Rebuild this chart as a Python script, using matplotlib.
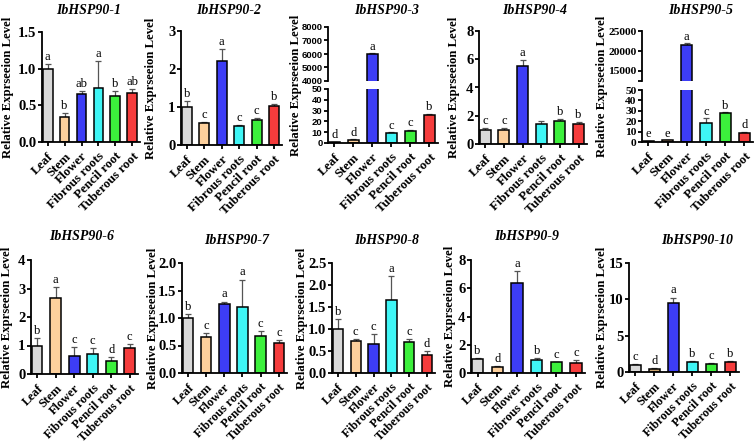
import matplotlib
matplotlib.use("Agg")
import matplotlib.pyplot as plt
import numpy as np

plt.rcParams['font.family'] = ['Liberation Serif', 'DejaVu Serif']

tissues = ["Leaf", "Stem", "Flower", "Fibrous roots", "Pencil root", "Tuberous root"]
colors = ["#d9d9d9", "#fdd09c", "#3d3df5", "#3ff5f5", "#3cf03c", "#f53c3c"]
colors_p10 = ["#d9d9d9", "#c8a26e", "#3d3df5", "#3ff5f5", "#3cf03c", "#f53c3c"]

genes = ["IbHSP90-1", "IbHSP90-2", "IbHSP90-3", "IbHSP90-4", "IbHSP90-5",
         "IbHSP90-6", "IbHSP90-7", "IbHSP90-8", "IbHSP90-9", "IbHSP90-10"]

means_1 = [1.0, 0.34, 0.66, 0.73, 0.63, 0.67]
err_1 = [0.06, 0.05, 0.04, 0.37, 0.07, 0.05]
let_1 = ["a", "b", "ab", "a", "b", "ab"]

means_2 = [1.0, 0.57, 2.2, 0.5, 0.65, 1.03]
err_2 = [0.15, 0.04, 0.33, 0.03, 0.07, 0.05]
let_2 = ["b", "c", "a", "c", "c", "b"]

means_3 = [0.8, 3.0, 6000, 9.0, 11.0, 26.0]
err_3 = [0.2, 0.5, 40, 1.0, 1.0, 1.0]
let_3 = ["d", "d", "a", "c", "c", "b"]

means_4 = [1.0, 1.0, 5.55, 1.45, 1.65, 1.45]
err_4 = [0.1, 0.15, 0.4, 0.15, 0.1, 0.08]
let_4 = ["c", "c", "a", "", "b", "b"]

means_5 = [1.0, 1.5, 21500, 18.0, 27.5, 9.0]
err_5 = [0.2, 0.3, 500, 5.0, 1.0, 1.0]
let_5 = ["e", "e", "a", "c", "b", "d"]

means_6 = [1.0, 2.65, 0.63, 0.7, 0.47, 0.92]
err_6 = [0.27, 0.4, 0.3, 0.22, 0.12, 0.14]
let_6 = ["b", "a", "c", "c", "d", "c"]

means_7 = [1.0, 0.65, 1.25, 1.2, 0.67, 0.55]
err_7 = [0.07, 0.08, 0.05, 0.5, 0.1, 0.05]
let_7 = ["b", "c", "a", "a", "c", "c"]

means_8 = [1.0, 0.72, 0.65, 1.65, 0.7, 0.4]
err_8 = [0.22, 0.05, 0.23, 0.55, 0.08, 0.1]
let_8 = ["b", "c", "c", "a", "c", "d"]

means_9 = [1.0, 0.45, 6.35, 0.95, 0.75, 0.7]
err_9 = [0.05, 0.05, 0.85, 0.12, 0.05, 0.2]
let_9 = ["b", "d", "a", "b", "c", "c"]

means_10 = [1.0, 0.45, 9.5, 1.35, 1.1, 1.35]
err_10 = [0.15, 0.1, 0.75, 0.1, 0.1, 0.1]
let_10 = ["c", "d", "a", "b", "c", "b"]

W, H = 755, 444
fig = plt.figure(figsize=(W / 100, H / 100), dpi=100)

def rect(L, R, T, B):
    return [L / W, 1 - B / H, (R - L) / W, (B - T) / H]

YLABEL = "Relative Exprseeion Level"
LW = 1.3

def style(ax, bottom=True, family=None, fs=10.5):
    for s in ["top", "right"]:
        ax.spines[s].set_visible(False)
    ax.spines["left"].set_linewidth(LW)
    ax.spines["bottom"].set_linewidth(LW)
    if not bottom:
        ax.spines["bottom"].set_visible(False)
    ax.tick_params(axis="y", width=LW, length=3, direction="out", pad=1)
    ax.tick_params(axis="y", which="minor", width=LW, length=3)
    ax.tick_params(axis="x", width=LW, length=3, direction="out", pad=3)
    for lab in ax.get_yticklabels():
        lab.set_fontweight("bold")
        lab.set_fontsize(fs)
        if family:
            lab.set_family(family)
    ax.set_xlim(-0.33, 5.45)

def bars(ax, means, errs, cols, letters, offset, clip_top=None):
    x = np.arange(len(means))
    ax.bar(x, means, width=0.58, color=cols, edgecolor="black", linewidth=1.1, zorder=2)
    ax.errorbar(x, means, yerr=[np.zeros(len(errs)), errs], fmt="none",
                ecolor="#555555", elinewidth=0.9, capsize=2.5, capthick=0.9, zorder=1)
    for xi, m, e, l in zip(x, means, errs, letters):
        if l and (clip_top is None or m + e <= clip_top):
            ax.text(xi, m + e + offset, l, ha="center", va="bottom", fontsize=9)

def xlabels(ax, fs):
    ax.set_xticks(np.arange(len(tissues)))
    ax.set_xticklabels(tissues, rotation=45, ha="right", rotation_mode="anchor",
                       fontsize=fs, fontweight="bold")

def title(x, y, t):
    fig.text(x / W, 1 - y / H, t, fontsize=10, fontweight="bold", style="italic",
             ha="center", va="center")

def ylab(x, yc):
    fig.text(x / W, 1 - yc / H, YLABEL, rotation=90, fontsize=9.2, fontweight="bold",
             ha="center", va="center")

def simple(r, tpos, lx, t, means, errs, letters, ymax, step, fmt, cols=colors, xfs=9.4):
    ax = fig.add_axes(rect(*r))
    bars(ax, means, errs, cols, letters, ymax * 0.01)
    ax.set_ylim(0, ymax)
    ticks = np.arange(0, ymax + step / 2, step)
    ax.set_yticks(ticks)
    ax.set_yticklabels([fmt.format(v) for v in ticks])
    xlabels(ax, xfs)
    style(ax)
    title(tpos[0], tpos[1], t)
    ylab(lx, (r[2] + r[3]) / 2)
    return ax

def broken(r_up, r_lo, tpos, lx, t, means, errs, letters, up_lim, up_ticks, lo_lim, lo_ticks,
           family, fs, minor=None):
    axu = fig.add_axes(rect(*r_up))
    axl = fig.add_axes(rect(*r_lo))
    bars(axu, means, errs, colors, ["" if m < up_lim[0] else l for m, l in zip(means, letters)], 0)
    bars(axl, means, errs, colors, letters, lo_lim[1] * 0.01, clip_top=lo_lim[1])
    axu.set_ylim(*up_lim)
    axu.set_yticks(up_ticks)
    axu.set_yticklabels([str(v) for v in up_ticks])
    if minor is not None:
        axu.set_yticks(minor, minor=True)
    axu.set_xticks([])
    axl.set_ylim(*lo_lim)
    axl.set_yticks(lo_ticks)
    axl.set_yticklabels([str(v) for v in lo_ticks])
    xlabels(axl, 9.4)
    style(axu, bottom=False, family=family, fs=fs)
    style(axl, family=family, fs=fs)
    title(tpos[0], tpos[1], t)
    ylab(lx, (r_up[2] + r_lo[3]) / 2)

simple((42, 140, 32, 142), (89, 11), 8, genes[0], means_1, err_1, let_1, 1.5, 0.5, "{:.1f}")
simple((181, 282, 31, 145), (229, 11), 151, genes[1], means_2, err_2, let_2, 3, 1, "{:.0f}")
broken((328, 438, 27, 81), (328, 438, 89, 143), (387, 11), 296, genes[2], means_3, err_3, let_3,
       (4000, 8000), [4000, 5000, 6000, 7000, 8000], (0, 50), [0, 10, 20, 30, 40, 50],
       ["Liberation Sans", "DejaVu Sans"], 6.8)
simple((479, 587, 31, 144), (535, 11), 454, genes[3], means_4, err_4, let_4, 8, 2, "{:.0f}")
broken((642, 753, 31, 81), (642, 753, 90, 142), (701, 11), 602, genes[4], means_5, err_5, let_5,
       (12500, 25000), [15000, 20000, 25000], (0, 50), [0, 10, 20, 30, 40, 50],
       None, 8.2, minor=[12500])
simple((31, 138, 260, 374), (82, 236), 7, genes[5], means_6, err_6, let_6, 4, 1, "{:.0f}", xfs=8.9)
simple((182, 287, 263, 373), (237, 240), 153, genes[6], means_7, err_7, let_7, 2.0, 0.5, "{:.1f}", xfs=8.9)
simple((332, 435, 263, 373), (387, 240), 302, genes[7], means_8, err_8, let_8, 2.5, 0.5, "{:.1f}", xfs=8.9)
simple((471, 585, 260, 373), (527, 236), 450, genes[8], means_9, err_9, let_9, 8, 2, "{:.0f}", xfs=8.9)
simple((629, 739, 263, 372), (697, 240), 602, genes[9], means_10, err_10, let_10, 15, 5, "{:.0f}",
       cols=colors_p10, xfs=8.9)

fig.savefig("out.png", dpi=100, facecolor="white")
